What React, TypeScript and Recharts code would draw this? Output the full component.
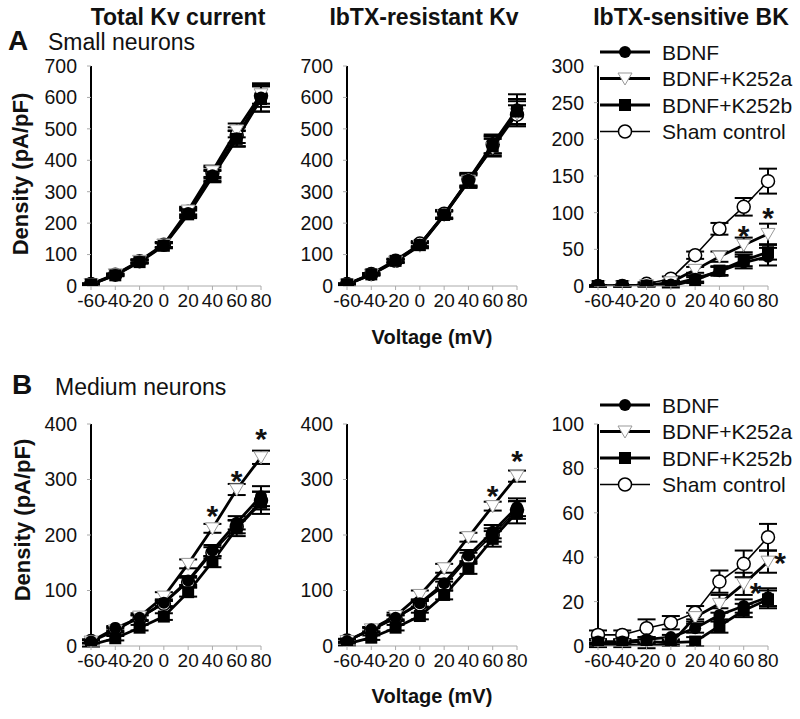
import { LineChart, Line, XAxis, YAxis, ErrorBar, Legend } from 'recharts'

const FONT = '"Liberation Sans", Arial, sans-serif'

const VOLTAGE = [-60, -40, -20, 0, 20, 40, 60, 80]

// Small neurons – total Kv
const a1Bdnf = [5, 35, 78, 130, 232, 352, 470, 600]
const a1BdnfErr = [2, 3, 5, 8, 12, 18, 25, 45]
const a1K252a = [6, 37, 80, 132, 240, 365, 495, 610]
const a1K252aErr = [2, 3, 5, 8, 12, 18, 22, 30]
const a1K252b = [5, 34, 76, 128, 228, 348, 468, 595]
const a1K252bErr = [2, 3, 5, 8, 12, 18, 25, 40]
const a1Sham = [6, 36, 79, 131, 236, 360, 480, 605]
const a1ShamErr = [2, 3, 5, 8, 12, 18, 25, 35]

// Small neurons – IbTX-resistant Kv
const a2Bdnf = [6, 38, 82, 132, 228, 338, 452, 562]
const a2BdnfErr = [2, 3, 5, 8, 12, 20, 30, 48]
const a2K252a = [5, 36, 78, 128, 225, 335, 440, 548]
const a2K252aErr = [2, 3, 5, 8, 12, 20, 28, 40]
const a2K252b = [5, 37, 80, 130, 226, 332, 445, 555]
const a2K252bErr = [2, 3, 5, 8, 12, 20, 30, 40]
const a2Sham = [6, 38, 80, 135, 230, 340, 450, 545]
const a2ShamErr = [2, 3, 5, 8, 12, 20, 28, 30]

// Small neurons – IbTX-sensitive BK
const a3Bdnf = [0, 0, 1, 2, 10, 20, 32, 40]
const a3BdnfErr = [0.5, 0.5, 1, 2, 4, 6, 8, 12]
const a3K252a = [0, 0, 1, 5, 22, 40, 56, 71]
const a3K252aErr = [0.5, 0.5, 1, 2, 4, 7, 10, 14]
const a3K252b = [0, 0, 0, 0, 8, 21, 35, 46]
const a3K252bErr = [0.5, 0.5, 1, 2, 4, 6, 8, 10]
const a3Sham = [0, 0, 3, 10, 42, 78, 108, 143]
const a3ShamErr = [1, 1, 2, 3, 5, 8, 12, 17]
const a3Star = [null, null, null, null, null, null, 76, 101]

// Medium neurons – total Kv
const b1Bdnf = [8, 32, 51, 78, 118, 172, 222, 270]
const b1BdnfErr = [3, 4, 5, 6, 8, 10, 12, 18]
const b1K252a = [8, 28, 53, 89, 148, 212, 282, 340]
const b1K252aErr = [3, 4, 6, 8, 8, 8, 10, 12]
const b1K252b = [2, 14, 33, 53, 97, 152, 212, 258]
const b1K252bErr = [3, 4, 5, 6, 8, 10, 14, 20]
const b1Sham = [9, 30, 50, 76, 115, 168, 215, 262]
const b1ShamErr = [3, 4, 5, 6, 8, 10, 12, 16]
const b1Star = [null, null, null, null, null, 245, 308, 384]

// Medium neurons – IbTX-resistant Kv
const b2Bdnf = [9, 30, 51, 77, 113, 163, 206, 250]
const b2BdnfErr = [3, 4, 5, 6, 8, 10, 12, 16]
const b2K252a = [9, 30, 54, 92, 140, 196, 252, 306]
const b2K252aErr = [3, 4, 6, 8, 8, 8, 8, 10]
const b2K252b = [4, 15, 33, 54, 92, 140, 193, 241]
const b2K252bErr = [3, 4, 5, 6, 8, 10, 14, 20]
const b2Sham = [10, 28, 50, 75, 108, 158, 200, 245]
const b2ShamErr = [3, 4, 5, 6, 8, 10, 12, 16]
const b2Star = [null, null, null, null, null, null, 281, 344]

// Medium neurons – IbTX-sensitive BK
const b3Bdnf = [2, 2, 3, 4, 8, 14, 18, 22]
const b3BdnfErr = [1, 1, 1, 1, 2, 3, 3, 4]
const b3K252a = [0.5, 0.5, 0, 1, 13, 19, 28, 38]
const b3K252aErr = [1, 1, 1, 1, 2, 4, 5, 5]
const b3K252b = [1.5, 1.5, 2, 1.5, 2, 9, 16, 21]
const b3K252bErr = [1, 1, 1, 1, 2, 3, 3, 4]
const b3Sham = [5, 5, 8, 10.5, 15, 29, 37, 49]
const b3ShamErr = [2, 2, 4, 3, 3, 5, 6, 6]
const b3Star = [null, null, null, null, null, null, 26.6, 40]

const LEGEND_NAMES = ['BDNF', 'BDNF+K252a', 'BDNF+K252b', 'Sham control']

type Marker = 'filled' | 'triangle' | 'square' | 'open'

function drawMarker(kind: Marker, cx: number, cy: number, key?: string) {
  if (kind === 'filled') return <circle key={key} cx={cx} cy={cy} r={6} fill="#000" />
  if (kind === 'square') return <rect key={key} x={cx - 6} y={cy - 6} width={12} height={12} fill="#000" />
  if (kind === 'open') return <circle key={key} cx={cx} cy={cy} r={6.5} fill="#fff" stroke="#000" strokeWidth={1.5} />
  return (
    <path key={key} d={`M${cx - 7},${cy - 5.5} L${cx + 7},${cy - 5.5} L${cx},${cy + 6.5} Z`} fill="#fff" stroke="#999" strokeWidth={1} />
  )
}

const dotOf = (kind: Marker) => (p: any) => {
  if (p.cx == null || p.cy == null || p.value == null) return <g key={'e' + p.index} />
  return drawMarker(kind, p.cx, p.cy, kind + p.index)
}

const starDot = (dx: number) => (p: any) => {
  if (p.cx == null || p.cy == null || p.value == null) return <g key={'s' + p.index} />
  return (
    <text key={'s' + p.index} x={p.cx + dx} y={p.cy + 16} textAnchor="middle" fontSize={30} fontWeight="bold" fontFamily={FONT} fill="#111">
      *
    </text>
  )
}

const SERIES: { key: string; kind: Marker; width: number }[] = [
  { key: 'bdnf', kind: 'filled', width: 2.8 },
  { key: 'k252a', kind: 'triangle', width: 2.8 },
  { key: 'k252b', kind: 'square', width: 2.8 },
  { key: 'sham', kind: 'open', width: 1.6 },
]

function LegendBox() {
  return (
    <svg width={200} height={110} style={{ display: 'block', overflow: 'visible' }}>
      {SERIES.map((s, i) => {
        const y = 13 + i * 26.5
        return (
          <g key={s.key}>
            <line x1={0} x2={50} y1={y} y2={y} stroke="#000" strokeWidth={s.width} />
            {drawMarker(s.kind, 25, y)}
            <text x={62} y={y} dy="0.36em" fontSize={21} fontFamily={FONT} fill="#111">
              {LEGEND_NAMES[i]}
            </text>
          </g>
        )
      })}
    </svg>
  )
}

type PanelProps = {
  left: number
  top: number
  plotH: number
  max: number
  step: number
  bdnf: number[]; bdnfErr: number[]
  k252a: number[]; k252aErr: number[]
  k252b: number[]; k252bErr: number[]
  sham: number[]; shamErr: number[]
  star?: (number | null)[]
  starDx?: number
  legendTop?: number
}

const PLOT_W = 170
const Y_W = 60
const M_TOP = 45
const X_H = 35

function Panel(p: PanelProps) {
  const data = VOLTAGE.map((v, i) => ({
    v,
    bdnf: p.bdnf[i], bdnfErr: p.bdnfErr[i],
    k252a: p.k252a[i], k252aErr: p.k252aErr[i],
    k252b: p.k252b[i], k252bErr: p.k252bErr[i],
    sham: p.sham[i], shamErr: p.shamErr[i],
    star: p.star ? p.star[i] : null,
  }))
  const ticks: number[] = []
  for (let t = 0; t <= p.max; t += p.step) ticks.push(t)

  return (
    <div style={{ position: 'absolute', left: p.left - Y_W, top: p.top - M_TOP }}>
      <LineChart width={Y_W + PLOT_W + 20} height={M_TOP + p.plotH + X_H} data={data} margin={{ top: M_TOP, right: 20, left: 0, bottom: 0 }}>
        <XAxis
          dataKey="v"
          type="number"
          domain={[-60, 80]}
          ticks={VOLTAGE}
          interval={0}
          height={X_H}
          axisLine={{ stroke: '#aaa', strokeWidth: 1 }}
          tickLine={{ stroke: '#aaa' }}
          tickSize={4}
          tickMargin={4}
          tick={{ fill: '#111', fontSize: 19, fontFamily: FONT }}
        />
        <YAxis
          type="number"
          domain={[0, p.max]}
          ticks={ticks}
          allowDataOverflow
          width={Y_W}
          axisLine={{ stroke: '#000', strokeWidth: 2 }}
          tickLine={{ stroke: '#aaa' }}
          tickSize={4}
          tickMargin={10}
          tick={{ fill: '#111', fontSize: 19.5, fontFamily: FONT }}
        />
        <Line dataKey="sham" stroke="#000" strokeWidth={1.6} dot={dotOf('open')} activeDot={false} isAnimationActive={false} legendType="none">
          <ErrorBar dataKey="shamErr" width={9} stroke="#000" strokeWidth={2} direction="y" />
        </Line>
        <Line dataKey="k252a" stroke="#000" strokeWidth={2.8} dot={dotOf('triangle')} activeDot={false} isAnimationActive={false} legendType="none">
          <ErrorBar dataKey="k252aErr" width={9} stroke="#000" strokeWidth={2} direction="y" />
        </Line>
        <Line dataKey="k252b" stroke="#000" strokeWidth={2.8} dot={dotOf('square')} activeDot={false} isAnimationActive={false} legendType="none">
          <ErrorBar dataKey="k252bErr" width={9} stroke="#000" strokeWidth={2} direction="y" />
        </Line>
        <Line dataKey="bdnf" stroke="#000" strokeWidth={2.8} dot={dotOf('filled')} activeDot={false} isAnimationActive={false} legendType="none">
          <ErrorBar dataKey="bdnfErr" width={9} stroke="#000" strokeWidth={2} direction="y" />
        </Line>
        {p.star && (
          <Line dataKey="star" stroke="none" dot={starDot(p.starDx ?? 0)} activeDot={false} isAnimationActive={false} legendType="none" />
        )}
        {p.legendTop != null && (
          <Legend
            layout="vertical"
            align="center"
            verticalAlign="middle"
            content={() => <LegendBox />}
            wrapperStyle={{ top: p.legendTop, left: 62, width: 200, height: 110 }}
          />
        )}
      </LineChart>
    </div>
  )
}

const COL = [91, 347, 598]
const ROW_A = 66
const ROW_B = 424

export default function App() {
  const t = { fontFamily: FONT, fill: '#111' }
  return (
    <div style={{ position: 'absolute', left: 0, top: 0, width: 800, height: 719, background: '#fff', fontFamily: FONT }}>
      <svg width={800} height={719} style={{ position: 'absolute', left: 0, top: 0 }}>
        <text {...t} x={178} y={25} textAnchor="middle" fontSize={23} fontWeight="bold">Total Kv current</text>
        <text {...t} x={424} y={25} textAnchor="middle" fontSize={23} fontWeight="bold">IbTX-resistant Kv</text>
        <text {...t} x={691} y={25} textAnchor="middle" fontSize={23} fontWeight="bold">IbTX-sensitive BK</text>
        <text {...t} x={8} y={50} fontSize={28} fontWeight="bold">A</text>
        <text {...t} x={48} y={50} fontSize={23}>Small neurons</text>
        <text {...t} x={12} y={394} fontSize={28} fontWeight="bold">B</text>
        <text {...t} x={55} y={395} fontSize={23}>Medium neurons</text>
        <text {...t} transform="translate(28,174) rotate(-90)" textAnchor="middle" fontSize={22} fontWeight="bold">Density (pA/pF)</text>
        <text {...t} transform="translate(30,520) rotate(-90)" textAnchor="middle" fontSize={22} fontWeight="bold">Density (pA/pF)</text>
        <text {...t} x={432} y={344} textAnchor="middle" fontSize={20} fontWeight="bold">Voltage (mV)</text>
        <text {...t} x={432} y={703} textAnchor="middle" fontSize={20} fontWeight="bold">Voltage (mV)</text>
      </svg>

      <Panel left={COL[0]} top={ROW_A} plotH={220} max={700} step={100}
        bdnf={a1Bdnf} bdnfErr={a1BdnfErr} k252a={a1K252a} k252aErr={a1K252aErr}
        k252b={a1K252b} k252bErr={a1K252bErr} sham={a1Sham} shamErr={a1ShamErr} />
      <Panel left={COL[1]} top={ROW_A} plotH={220} max={700} step={100}
        bdnf={a2Bdnf} bdnfErr={a2BdnfErr} k252a={a2K252a} k252aErr={a2K252aErr}
        k252b={a2K252b} k252bErr={a2K252bErr} sham={a2Sham} shamErr={a2ShamErr} />
      <Panel left={COL[2]} top={ROW_A} plotH={220} max={300} step={50}
        bdnf={a3Bdnf} bdnfErr={a3BdnfErr} k252a={a3K252a} k252aErr={a3K252aErr}
        k252b={a3K252b} k252bErr={a3K252bErr} sham={a3Sham} shamErr={a3ShamErr}
        star={a3Star} legendTop={18} />

      <Panel left={COL[0]} top={ROW_B} plotH={222} max={400} step={100}
        bdnf={b1Bdnf} bdnfErr={b1BdnfErr} k252a={b1K252a} k252aErr={b1K252aErr}
        k252b={b1K252b} k252bErr={b1K252bErr} sham={b1Sham} shamErr={b1ShamErr}
        star={b1Star} />
      <Panel left={COL[1]} top={ROW_B} plotH={222} max={400} step={100}
        bdnf={b2Bdnf} bdnfErr={b2BdnfErr} k252a={b2K252a} k252aErr={b2K252aErr}
        k252b={b2K252b} k252bErr={b2K252bErr} sham={b2Sham} shamErr={b2ShamErr}
        star={b2Star} />
      <Panel left={COL[2]} top={ROW_B} plotH={222} max={100} step={20}
        bdnf={b3Bdnf} bdnfErr={b3BdnfErr} k252a={b3K252a} k252aErr={b3K252aErr}
        k252b={b3K252b} k252bErr={b3K252bErr} sham={b3Sham} shamErr={b3ShamErr}
        star={b3Star} starDx={12} legendTop={13} />
    </div>
  )
}
